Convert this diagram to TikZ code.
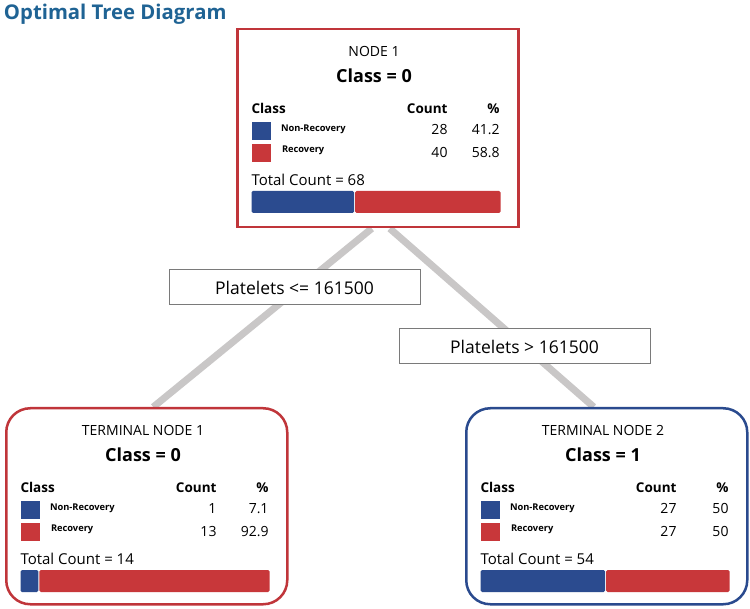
\documentclass[tikz,border=0pt]{standalone}
\usepackage{fontspec}
\setmainfont{Open Sans}
\usetikzlibrary{backgrounds}
\definecolor{nred}{HTML}{C0353A}
\definecolor{nblue}{HTML}{2A4A8E}
\definecolor{bred}{HTML}{C8373A}
\definecolor{bblue}{HTML}{2B4B8F}
\definecolor{ttl}{HTML}{1F6394}
\definecolor{edgec}{HTML}{C9C7C7}
\definecolor{lblc}{HTML}{7A7A7A}
\tikzset{
  txt/.style={inner sep=0pt, outer sep=0pt},
  panelbox/.style={draw=#1, line width=2.5pt, fill=white, inner sep=0pt,
    minimum width=281pt, minimum height=196pt, anchor=north west},
  sqr/.style={inner sep=0pt, outer sep=0pt, minimum width=19pt, minimum height=18pt, anchor=north west},
  lblbox/.style={draw=lblc, line width=1pt, fill=white, inner sep=0pt,
    minimum width=251pt, minimum height=35pt, font=\fontsize{17.5}{17.5}\selectfont},
  conn/.style={draw=edgec, line width=7pt},
}
% #1 name, #2 L, #3 T, #4 title, #5 class, #6 c1, #7 p1, #8 c2, #9 p2
\newcommand\panelbody[9]{%
\begin{scope}[shift={(#2,#3)}]
  \node[txt,anchor=base] (#1-title) at (138,28.5) {\fontsize{14}{14}\selectfont #4};
  \node[txt,anchor=base] (#1-class) at (138,55) {\fontsize{18}{18}\selectfont\bfseries Class = #5};
  \node[txt,anchor=base west] (#1-hc) at (15.5,86) {\fontsize{13.5}{13.5}\selectfont\bfseries Class};
  \node[txt,anchor=base east] (#1-hn) at (211.5,86) {\fontsize{13.5}{13.5}\selectfont\bfseries Count};
  \node[txt,anchor=base east] (#1-hp) at (263.5,86) {\fontsize{13.5}{13.5}\selectfont\bfseries \%};
  \node[sqr,fill=bblue] (#1-sq1) at (15.5,94) {};
  \node[sqr,fill=bred] (#1-sq2) at (15.5,116) {};
  \node[txt,anchor=base west] (#1-l1) at (45,103.5) {\fontsize{9.3}{9.3}\selectfont\bfseries Non-Recovery};
  \node[txt,anchor=base west] (#1-l2) at (46,124.5) {\fontsize{9.3}{9.3}\selectfont\bfseries Recovery};
  \node[txt,anchor=base east] (#1-c1) at (211.5,107) {\fontsize{14}{14}\selectfont #6};
  \node[txt,anchor=base east] (#1-p1) at (263.5,107) {\fontsize{14}{14}\selectfont #7};
  \node[txt,anchor=base east] (#1-c2) at (211.5,129.5) {\fontsize{14}{14}\selectfont #8};
  \node[txt,anchor=base east] (#1-p2) at (263.5,129.5) {\fontsize{14}{14}\selectfont #9};
\end{scope}}
% #1 name, #2 L, #3 T, #4 total, #5 blue width
\newcommand\panelfoot[5]{%
\begin{scope}[shift={(#2,#3)}]
  \node[txt,anchor=base west] (#1-tot) at (15.5,157.5) {\fontsize{15}{15}\selectfont Total Count = #4};
  \fill[bblue, rounded corners=1.5pt] (15.5,163) rectangle ({15.5+#5},185);
  \fill[bred, rounded corners=1.5pt] ({16.5+#5},163) rectangle (264.5,185);
\end{scope}}
\begin{document}
\begin{tikzpicture}[x=1pt,y=-1pt]
\useasboundingbox (0,0) rectangle (750,609);
% title
\node[txt,anchor=base west,text=ttl] (title) at (4,20) {\fontsize{20.3}{20.3}\selectfont\bfseries Optimal Tree Diagram};
% boxes
\node[panelbox=nred, minimum height=198pt] (n1) at (236,28) {};
\node[panelbox=nred, rounded corners=24pt] (t1) at (5,407) {};
\node[panelbox=nblue, rounded corners=24pt] (t2) at (465,407) {};
\panelbody{n1}{236}{28}{NODE 1}{0}{28}{41.2}{40}{58.8}
\panelfoot{n1}{236}{28}{68}{102.5}
\panelbody{t1}{5}{407}{TERMINAL NODE 1}{0}{1}{7.1}{13}{92.9}
\panelfoot{t1}{5}{407}{14}{17.8}
\panelbody{t2}{465}{407}{TERMINAL NODE 2}{1}{27}{50}{27}{50}
\panelfoot{t2}{465}{407}{54}{124.5}
% split labels
\node[lblbox] (e1) at (294.5,287.5) {Platelets <= 161500};
\node[lblbox] (e2) at (524.5,346.5) {Platelets > 161500};
% connectors
\begin{scope}[on background layer]
  \fill[white] (0,0) rectangle (750,609);
  \draw[conn] ([xshift=-6pt]n1.south) -- ([xshift=6.5pt]t1.north);
  \draw[conn] ([xshift=12pt]n1.south) -- ([xshift=-13pt]t2.north);
\end{scope}
\end{tikzpicture}
\end{document}
